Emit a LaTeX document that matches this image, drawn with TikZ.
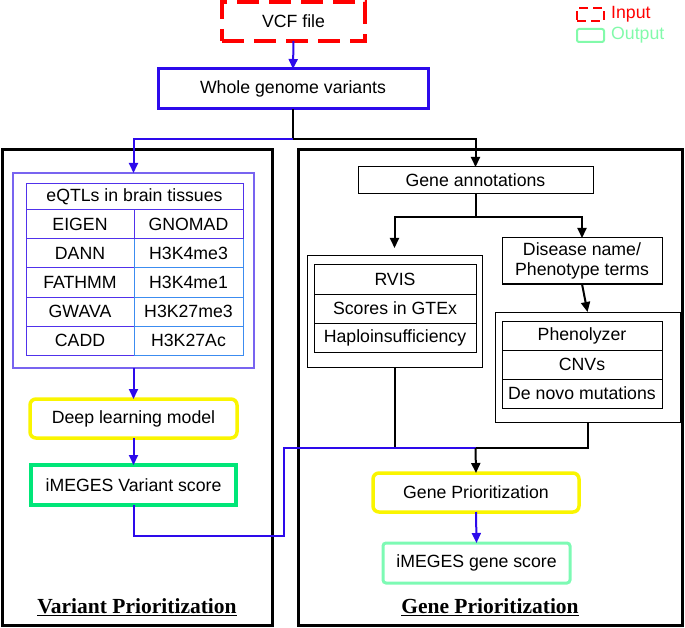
\documentclass[tikz,border=0pt]{standalone}
\usepackage{fontspec}
\setmainfont{Liberation Sans}
\newfontfamily\serifb{Liberation Serif}
\usetikzlibrary{arrows.meta}
\definecolor{vblue}{RGB}{45,10,235}
\definecolor{pbox}{RGB}{120,100,240}
\definecolor{tpurp}{RGB}{80,50,235}
\definecolor{tlblue}{RGB}{60,140,240}
\definecolor{yel}{RGB}{250,245,0}
\definecolor{vgreen}{RGB}{0,230,120}
\definecolor{lgreen}{RGB}{125,250,180}
\definecolor{legreen}{RGB}{130,250,170}
\begin{document}
\begin{tikzpicture}[x=1pt,y=-1pt,
  font=\fontsize{17.7}{20}\selectfont,
  box/.style={draw, rectangle, inner sep=0pt, outer sep=0pt, align=center},
  thin box/.style={box, line width=1pt, draw=black},
  panel/.style={box, line width=3pt, draw=black},
  cellp/.style={box, line width=1pt, draw=tpurp},
  cellb/.style={box, line width=1pt, draw=tlblue},
  arrowtip/.style={-{Triangle[length=10pt,width=9pt]}},
  bluec/.style={draw=vblue, line width=2pt},
  blk/.style={draw=black, line width=2pt},
  lab/.style={inner sep=0pt, font=\serifb\bfseries\fontsize{21.5}{24}\selectfont}
]
\useasboundingbox (0,0) rectangle (685,628);

% panels
\node[panel, minimum width=270pt, minimum height=475pt] (lp) at (137,387.5) {};
\node[panel, minimum width=384pt, minimum height=475pt] (rp) at (490,387.5) {};

% top
\node[box, draw=red, line width=4pt, dash pattern=on 22pt off 10pt,
      minimum width=143pt, minimum height=39pt] (vcf) at (293.5,21.5) {VCF file};
\node[box, draw=vblue, line width=3pt, minimum width=270pt, minimum height=40pt] (wgv) at (293,89) {Whole genome variants};

% legend
\node[box, draw=red, line width=2pt, dash pattern=on 9pt off 5pt,
      minimum width=27pt, minimum height=13pt] (lin) at (590.5,14.5) {};
\node[box, draw=legreen, line width=2pt, rounded corners=2pt,
      minimum width=27pt, minimum height=13pt] (lout) at (590.5,35.5) {};
\node[anchor=west, inner sep=0pt, text=red] (tin) at (611,14.5) {Input};
\node[anchor=west, inner sep=0pt, text=legreen] (tout) at (611,35.5) {Output};

% left panel
\node[box, draw=pbox, line width=1.5pt, minimum width=241pt, minimum height=195pt] (eq) at (133.5,270.5) {};
\node[cellp, minimum width=217pt, minimum height=26pt] (hdr) at (134.5,197) {eQTLs in brain tissues};
\node[cellp, minimum width=108pt, minimum height=29pt] (l1) at (80,224.5) {EIGEN};
\node[cellp, minimum width=108pt, minimum height=29pt] (l2) at (80,253.5) {DANN};
\node[cellp, minimum width=108pt, minimum height=29pt] (l3) at (80,282.5) {FATHMM};
\node[cellp, minimum width=108pt, minimum height=29pt] (l4) at (80,311.5) {GWAVA};
\node[cellp, minimum width=108pt, minimum height=29pt] (l5) at (80,340.5) {CADD};
\node[cellb, minimum width=109pt, minimum height=29pt] (r2) at (188.5,253.5) {H3K4me3};
\node[cellb, minimum width=109pt, minimum height=29pt] (r3) at (188.5,282.5) {H3K4me1};
\node[cellb, minimum width=109pt, minimum height=29pt] (r4) at (188.5,311.5) {H3K27me3};
\node[cellb, minimum width=109pt, minimum height=29pt] (r5) at (188.5,340.5) {H3K27Ac};
\node[cellp, minimum width=109pt, minimum height=29pt] (r1) at (188.5,224.5) {GNOMAD};

\node[box, draw=yel, line width=3.5pt, rounded corners=6pt, minimum width=207pt, minimum height=39pt] (dl) at (133.5,418.5) {Deep learning model};
\node[box, draw=vgreen, line width=4pt, minimum width=205pt, minimum height=40pt] (vs) at (133.5,485) {iMEGES Variant score};

% right panel
\node[thin box, minimum width=235pt, minimum height=27pt] (ga) at (475.5,180.5) {Gene annotations};
\node[thin box, minimum width=175pt, minimum height=111pt] (rvo) at (394.5,311.5) {};
\node[thin box, minimum width=162pt, minimum height=29pt] (rv1) at (395,279.5) {RVIS};
\node[thin box, minimum width=162pt, minimum height=29pt] (rv2) at (395,308.5) {Scores in GTEx};
\node[thin box, minimum width=162pt, minimum height=29pt] (rv3) at (395,337.5) {Haploinsufficiency};
\node[thin box, minimum width=160pt, minimum height=46pt] (dis) at (582,261) {Disease name/\\Phenotype terms};
\node[thin box, minimum width=185pt, minimum height=110pt] (pho) at (587.5,367) {};
\node[thin box, minimum width=160pt, minimum height=29pt] (ph1) at (582,335.5) {Phenolyzer};
\node[thin box, minimum width=160pt, minimum height=29pt] (ph2) at (582,364.5) {CNVs};
\node[thin box, minimum width=160pt, minimum height=29pt] (ph3) at (582,393.5) {De novo mutations};

\node[box, draw=yel, line width=3.5pt, rounded corners=6pt, minimum width=206pt, minimum height=39pt] (gp) at (476,492.5) {Gene Prioritization};
\node[box, draw=lgreen, line width=3pt, rounded corners=3pt, minimum width=187pt, minimum height=40pt] (gs) at (476.5,563) {iMEGES gene score};

% labels
\node[lab] (lv) at (137,607) {\underline{Variant Prioritization}};
\node[lab] (lg) at (490,607) {\underline{Gene Prioritization}};

% connectors
\coordinate (j1) at (293,139);
\coordinate (j2) at (475.5,217);
\coordinate (j3) at (475.5,448);
\coordinate (c1) at (284,536);

\draw[bluec, arrowtip] (vcf.south) -- (wgv.north);
\draw[blk] (wgv.south) -- (j1);
\draw[blk, arrowtip] (j1) -| (ga.north);
\draw[bluec, arrowtip] (j1) -| (eq.north);

\draw[bluec, arrowtip] (eq.south) -- (dl.north);
\draw[bluec, arrowtip] (dl.south) -- (vs.north);

\draw[blk] (ga.south) -- (j2);
\draw[blk, arrowtip, shorten >=8pt] (j2) -| (rvo.north);
\draw[blk, arrowtip] (j2) -| (dis.north);
\draw[blk, arrowtip] (dis.south) -- (pho.north);

\draw[blk] (rvo.south) |- (j3);
\draw[blk] (pho.south) |- (j3);
\draw[bluec] (vs.south) |- (c1) |- (j3);
\draw[blk, arrowtip] (j3) -- (gp.north);
\draw[bluec, arrowtip] (gp.south) -- (gs.north);
\end{tikzpicture}
\end{document}
